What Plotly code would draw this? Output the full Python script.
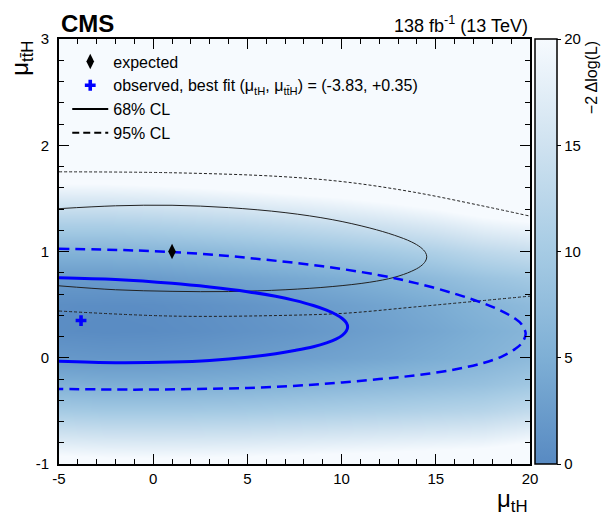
import plotly.graph_objects as go

# ---------------- data ----------------
# observed -2 Delta log(L) surface, sampled on a coarse grid
grid_x = [-5, -2.5, 0, 2.5, 5, 7.5, 10, 12.5, 15, 17.5, 20]
grid_y = [-1, -0.75, -0.5, -0.25, 0, 0.25, 0.5, 0.75, 1, 1.25, 1.5, 1.75, 2, 2.5, 3]
grid_z = [
    [21.9, 21.5, 21.4, 21.5, 21.7, 22.0, 22.4, 22.7, 23.1, 23.5, 24.7],
    [15.7, 15.3, 15.2, 15.3, 15.5, 15.9, 16.3, 16.7, 17.1, 17.5, 18.8],
    [10.0, 9.6, 9.6, 9.7, 9.9, 10.3, 10.7, 11.1, 11.6, 12.1, 13.4],
    [5.2, 4.8, 4.8, 5.0, 5.3, 5.8, 6.3, 6.8, 7.4, 8.1, 9.3],
    [1.9, 1.7, 1.7, 2.0, 2.4, 2.9, 3.4, 4.0, 4.8, 5.7, 6.9],
    [0.4, 0.2, 0.3, 0.6, 1.1, 1.6, 2.3, 3.0, 3.9, 5.0, 6.1],
    [0.5, 0.4, 0.5, 0.9, 1.4, 2.1, 2.8, 3.6, 4.6, 5.9, 7.0],
    [2.2, 2.2, 2.4, 2.9, 3.5, 4.2, 4.9, 5.8, 7.0, 8.5, 9.6],
    [5.7, 5.7, 6.0, 6.5, 7.2, 7.9, 8.8, 9.8, 11.0, 12.7, 13.8],
    [10.7, 10.7, 11.1, 11.7, 12.3, 13.1, 14.0, 15.1, 16.4, 18.2, 19.3],
    [16.4, 16.5, 16.9, 17.5, 18.2, 19.0, 19.9, 21.0, 22.4, 24.2, 25.3],
    [22.7, 22.8, 23.2, 23.8, 24.5, 25.4, 26.3, 27.4, 28.6, 30.0, 31.5],
    [29.4, 29.5, 29.8, 30.4, 31.0, 31.5, 32.0, 33.0, 34.0, 36.0, 37.5],
    [40, 40, 40, 40, 40, 40, 40, 40, 40, 40, 40],
    [50, 50, 50, 50, 50, 50, 50, 50, 50, 50, 50],
]

# observed 68% CL contour (upper branch left->right, then lower branch right->left)
obs68_x = [-5, -2, 1, 3, 5, 6.5, 7.5, 8.5, 9.2, 9.7, 10.05, 10.25, 10.32,
           10.25, 10.05, 9.7, 9.2, 8.5, 7.5, 6.5, 5, 3, 1, -2, -5]
obs68_y = [0.754, 0.737, 0.701, 0.666, 0.622, 0.578, 0.540, 0.492, 0.448, 0.407, 0.367, 0.329, 0.29,
           0.251, 0.213, 0.175, 0.140, 0.104, 0.068, 0.038, 0.004, -0.026, -0.041, -0.047, -0.034]
# observed 95% CL contour
obs95_x = [-5, -1, 3, 6, 9, 12, 14, 16, 17.5, 18.5, 19.2, 19.55, 19.77,
           19.55, 19.2, 18.5, 17.5, 16, 14, 12, 9, 6, 3, -1, -5]
obs95_y = [1.025, 1.010, 0.972, 0.922, 0.861, 0.777, 0.700, 0.603, 0.514, 0.439, 0.369, 0.315, 0.225,
           0.135, 0.081, 0.011, -0.050, -0.111, -0.164, -0.201, -0.247, -0.278, -0.292, -0.300, -0.293]
# expected 68% CL contour
exp68_x = [-5, -2, 1, 4, 7, 9.5, 11.5, 12.8, 13.7, 14.2, 14.45, 14.52,
           14.45, 14.2, 13.7, 12.8, 11.5, 9.5, 7, 4, 1, -2, -5]
exp68_y = [1.403, 1.430, 1.435, 1.413, 1.366, 1.300, 1.221, 1.153, 1.091, 1.038, 0.991, 0.95,
           0.909, 0.862, 0.813, 0.757, 0.711, 0.670, 0.640, 0.623, 0.625, 0.640, 0.677]
# expected 95% CL contour (upper and lower branches)
exp95_up_x = [-5, 1.05, 6.73, 10.27, 13.82, 17.35, 20]
exp95_up_y = [1.75, 1.741, 1.706, 1.653, 1.559, 1.434, 1.333]
exp95_lo_x = [-5, 1.05, 7.26, 10.27, 13.82, 20]
exp95_lo_y = [0.44, 0.392, 0.40, 0.42, 0.477, 0.58]

expected_pt = (1.0, 1.0)
observed_pt = (-3.83, 0.35)

x_ticks = [-5, 0, 5, 10, 15, 20]
x_ticklabels = ["-5", "0", "5", "10", "15", "20"]
y_ticks = [-1, 0, 1, 2, 3]
y_ticklabels = ["-1", "0", "1", "2", "3"]
cb_ticks = [0, 5, 10, 15, 20]

# ---------------- figure ----------------
FONT = "Liberation Sans, Arial, Helvetica, sans-serif"
BLUE = "#0000ff"

fig = go.Figure()

fig.add_trace(go.Heatmap(
    x=grid_x, y=grid_y, z=grid_z, zmin=0, zmax=20, zsmooth="best",
    colorscale=[[0, "rgb(88,138,194)"], [0.25, "rgb(126,175,213)"],
                [0.5, "rgb(166,203,228)"], [0.75, "rgb(207,226,240)"],
                [1, "rgb(246,250,254)"]],
    showscale=True, hoverinfo="skip",
    colorbar=dict(thickness=22, thicknessmode="pixels", len=1, lenmode="fraction",
                  x=1.0106, xanchor="left", xpad=0, y=1, yanchor="top", ypad=0,
                  outlinewidth=1.5, outlinecolor="black",
                  tickvals=cb_ticks, ticktext=[str(v) for v in cb_ticks],
                  ticks="outside", ticklen=4, tickcolor="black",
                  tickfont=dict(family=FONT, size=15, color="black")),
    showlegend=False,
))

line_common = dict(mode="lines", showlegend=False, hoverinfo="skip")
fig.add_trace(go.Scatter(x=exp95_up_x, y=exp95_up_y, line=dict(color="#222", width=1, dash="3px,2px", shape="spline"), **line_common))
fig.add_trace(go.Scatter(x=exp95_lo_x, y=exp95_lo_y, line=dict(color="#222", width=1, dash="3px,2px", shape="spline"), **line_common))
fig.add_trace(go.Scatter(x=exp68_x, y=exp68_y, line=dict(color="#222", width=1, shape="spline"), **line_common))
fig.add_trace(go.Scatter(x=obs95_x, y=obs95_y, line=dict(color=BLUE, width=2.5, dash="10px,6px", shape="spline"), **line_common))
fig.add_trace(go.Scatter(x=obs68_x, y=obs68_y, line=dict(color=BLUE, width=3, shape="spline"), **line_common))

fig.add_trace(go.Scatter(x=[expected_pt[0]], y=[expected_pt[1]], mode="markers",
                         marker=dict(symbol="diamond-tall", size=11, color="black"),
                         name="expected", hoverinfo="skip"))
fig.add_trace(go.Scatter(x=[observed_pt[0]], y=[observed_pt[1]], mode="markers",
                         marker=dict(symbol="cross", size=9, color=BLUE),
                         name="observed, best fit (μ<sub>tH</sub>, μ<sub>tt̄H</sub>) = (-3.83, +0.35)",
                         hoverinfo="skip"))
fig.add_trace(go.Scatter(x=[None], y=[None], mode="lines", line=dict(color="black", width=2),
                         name="68% CL"))
fig.add_trace(go.Scatter(x=[None], y=[None], mode="lines", line=dict(color="black", width=2, dash="7px,4px"),
                         name="95% CL"))

axis_common = dict(showline=True, linewidth=2, linecolor="black", mirror="ticks",
                   ticks="inside", ticklen=10, tickwidth=1, tickcolor="black",
                   showgrid=False, zeroline=False, automargin=False,
                   tickfont=dict(family=FONT, size=15, color="black"))

fig.update_xaxes(range=[-5, 20], tickvals=x_ticks, ticktext=x_ticklabels,
                 minor=dict(ticks="inside", ticklen=5, dtick=1, tickcolor="black", showgrid=False),
                 **axis_common)
fig.update_yaxes(range=[-1, 3], tickvals=y_ticks, ticktext=y_ticklabels, ticklabelstandoff=5,
                 minor=dict(ticks="inside", ticklen=5, dtick=0.2, tickcolor="black", showgrid=False),
                 **axis_common)

fig.update_layout(
    width=605, height=515,
    margin=dict(l=59, r=75, t=38.5, b=51.3, pad=0, autoexpand=False),
    plot_bgcolor="white", paper_bgcolor="white",
    font=dict(family=FONT, size=15, color="black"),
    legend=dict(x=0.0175, y=0.987, xanchor="left", yanchor="top", bgcolor="rgba(0,0,0,0)",
                font=dict(family=FONT, size=16, color="black"), itemwidth=36,
                tracegroupgap=0),
    annotations=[
        dict(text="<b>CMS</b>", x=0, y=1, xref="paper", yref="paper", xanchor="left",
             yanchor="bottom", yshift=0, showarrow=False, font=dict(family=FONT, size=24)),
        dict(text="138 fb<sup>-1</sup> (13 TeV)", x=1, y=1, xref="paper", yref="paper",
             xanchor="right", yanchor="bottom", yshift=1, showarrow=False,
             font=dict(family=FONT, size=18)),
        dict(text="μ<sub>tt̄H</sub>", x=-0.08, y=1, xref="paper", yref="paper",
             xanchor="center", yanchor="top", textangle=-90, showarrow=False,
             font=dict(family=FONT, size=24)),
        dict(text="μ<sub>tH</sub>", x=1, y=0, xref="paper", yref="paper",
             xanchor="right", yanchor="top", yshift=-19, showarrow=False,
             font=dict(family=FONT, size=24)),
        dict(text="−2 Δlog(L)", x=1.131, y=1, xref="paper", yref="paper",
             xanchor="center", yanchor="top", textangle=-90, showarrow=False,
             font=dict(family=FONT, size=16)),
    ],
)

fig.write_html("out.html", config={"displayModeBar": False},
               post_script="document.body.style.margin='0px';")
